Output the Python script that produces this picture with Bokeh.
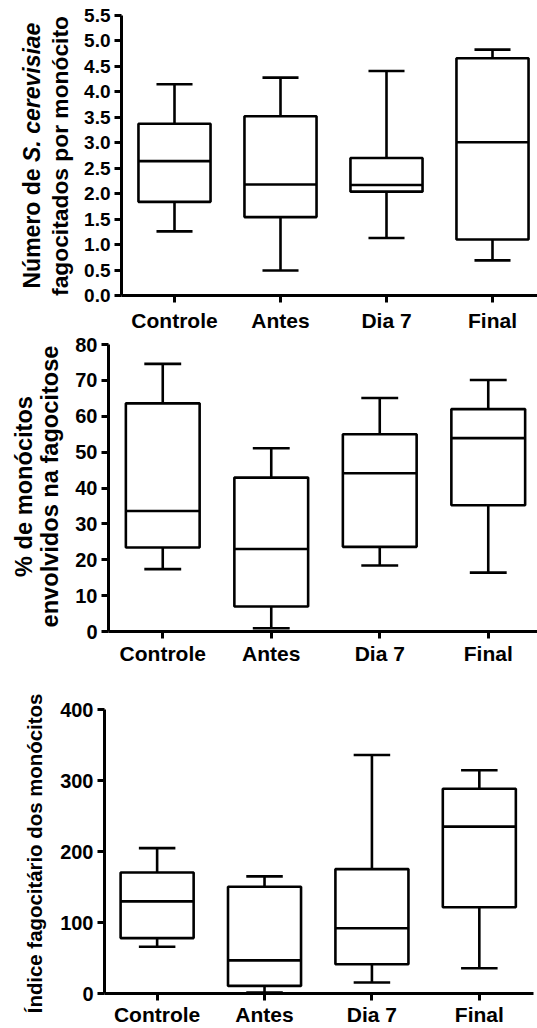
import numpy as np
from bokeh.plotting import figure
from bokeh.models import FixedTicker, Range1d, NumeralTickFormatter
from bokeh.core.properties import value
from bokeh.layouts import column, row
from bokeh.embed import file_html
from bokeh.resources import INLINE

groups = ["Controle", "Antes", "Dia 7", "Final"]

# Number of S. cerevisiae phagocytosed per monocyte
sc_min = [1.26, 0.49, 1.13, 0.69]
sc_q1 = [1.84, 1.54, 2.04, 1.10]
sc_med = [2.64, 2.18, 2.17, 3.01]
sc_q3 = [3.375, 3.52, 2.70, 4.66]
sc_max = [4.15, 4.28, 4.41, 4.83]

# % of monocytes involved in phagocytosis
pct_min = [17.4, 0.9, 18.4, 16.4]
pct_q1 = [23.4, 6.95, 23.6, 35.2]
pct_med = [33.6, 23.0, 44.1, 53.9]
pct_q3 = [63.6, 42.9, 55.0, 62.0]
pct_max = [74.6, 51.1, 65.1, 70.1]

# Phagocytic index of monocytes
idx_min = [65.9, 1.4, 15.4, 35.5]
idx_q1 = [78.0, 10.7, 41.1, 121.4]
idx_med = [129.8, 46.7, 92.0, 235.0]
idx_q3 = [170.5, 150.4, 175.2, 288.3]
idx_max = [204.7, 164.9, 335.9, 314.5]

FONT = "Liberation Sans"
LW = 2.6
W = 537


def make_panel(width, height, b_top, b_bottom, b_left, b_right, x_start, x_end,
               y_end, y_step, stats, tick_size, tick_fmt, x_standoff):
    lo, q1, med, q3, hi = stats
    p = figure(width=width, height=height, output_backend="svg", toolbar_location=None,
               x_range=Range1d(x_start, x_end), y_range=Range1d(0, y_end),
               min_border_top=b_top, min_border_bottom=b_bottom,
               min_border_left=b_left, min_border_right=b_right)
    p.frame_align = False
    p.outline_line_color = None
    p.grid.visible = False
    p.background_fill_color = "white"

    xs = list(range(len(groups)))
    bw = 0.68
    cw = 0.34
    # whiskers and caps
    p.segment(x0=xs, y0=q3, x1=xs, y1=hi, line_color="black", line_width=LW)
    p.segment(x0=xs, y0=lo, x1=xs, y1=q1, line_color="black", line_width=LW)
    p.segment(x0=[x - cw / 2 for x in xs], y0=hi, x1=[x + cw / 2 for x in xs], y1=hi,
              line_color="black", line_width=LW)
    p.segment(x0=[x - cw / 2 for x in xs], y0=lo, x1=[x + cw / 2 for x in xs], y1=lo,
              line_color="black", line_width=LW)
    # boxes
    p.vbar(x=xs, width=bw, bottom=q1, top=q3, fill_color="white",
           line_color="black", line_width=LW)
    # medians
    p.segment(x0=[x - bw / 2 for x in xs], y0=med, x1=[x + bw / 2 for x in xs], y1=med,
              line_color="black", line_width=LW)

    for ax in (p.xaxis[0], p.yaxis[0]):
        ax.axis_line_width = 3
        ax.axis_line_color = "black"
        ax.major_tick_line_width = 3
        ax.major_tick_line_color = "black"
        ax.major_tick_out = 7
        ax.major_tick_in = 0
        ax.minor_tick_line_color = None
        ax.major_label_text_font = FONT
        ax.major_label_text_font_style = "bold"
        ax.major_label_text_color = "black"

    p.xaxis.ticker = FixedTicker(ticks=xs)
    p.xaxis.major_label_overrides = {i: g for i, g in enumerate(groups)}
    p.xaxis.major_label_text_font_size = "21px"
    p.xaxis.major_label_standoff = x_standoff

    p.yaxis.ticker = FixedTicker(ticks=list(np.arange(0, y_end + 1e-9, y_step)))
    p.yaxis.major_label_text_font_size = tick_size
    p.yaxis.major_label_standoff = 4
    if tick_fmt:
        p.yaxis.formatter = NumeralTickFormatter(format=tick_fmt)
    return p


def label_strip(width, height, lines):
    """Narrow figure holding the rotated y-axis title; coordinates are pixels,
    x from the left edge, y from the top edge."""
    s = figure(width=width, height=height, output_backend="svg", toolbar_location=None,
               x_range=Range1d(0, width), y_range=Range1d(0, height),
               x_axis_type=None, y_axis_type=None,
               min_border=0, min_border_left=0, min_border_right=0,
               min_border_top=0, min_border_bottom=0)
    s.frame_align = False
    s.outline_line_color = None
    s.grid.visible = False
    for text, x, y_top, size, style, align in lines:
        s.text(x=[x], y=[height - y_top], text=[text], angle=np.pi / 2,
               text_align=align, text_baseline="middle",
               text_font=value(FONT), text_font_style=style,
               text_font_size=f"{size}px", text_color="black")
    return s


# Panel 1: first title line mixes upright and italic text
F1 = 23.0
first_w = 5.501 * F1          # advance width of "Número de " in em units
S1 = 78
s1 = label_strip(S1, 334, [
    ("Número de ", 31, 288, F1, "bold", "left"),
    ("S. cerevisiae", 31, 288 - first_w, F1, "bold italic", "left"),
    ("fagocitados por monócito", 59, 155.5, 22.8, "bold", "center"),
])
p1 = make_panel(W - S1, 334, 15, 39, 121 - S1, 0, -0.5, -0.5 + 416 / 106.0,
                5.5, 0.5, (sc_min, sc_q1, sc_med, sc_q3, sc_max), "19px", "0.0", 6)

# Panel 2
S2 = 68
s2 = label_strip(S2, 346, [
    ("% de monócitos", 23, 152, 23.6, "bold", "center"),
    ("envolvidos na fagocitose", 49.5, 152, 23.6, "bold", "center"),
])
p2 = make_panel(W - S2, 346, 10, 49, 108 - S2, 0, -0.5, -0.5 + 429 / 108.5,
                80, 10, (pct_min, pct_q1, pct_med, pct_q3, pct_max), "20px", None, 3)

# Panel 3
S3 = 52
s3 = label_strip(S3, 348, [
    ("Índice fagocitário dos monócitos", 34, 173, 20.4, "bold", "center"),
])
p3 = make_panel(W - S3, 348, 29, 34, 104 - S3, 4, -0.49, -0.49 + 429 / 107.4,
                400, 100, (idx_min, idx_q1, idx_med, idx_q3, idx_max), "20px", None, 2)

layout = column(row(s1, p1, spacing=0), row(s2, p2, spacing=0),
                row(s3, p3, spacing=0), spacing=0)
open("out.html", "w").write(file_html(layout, INLINE))
